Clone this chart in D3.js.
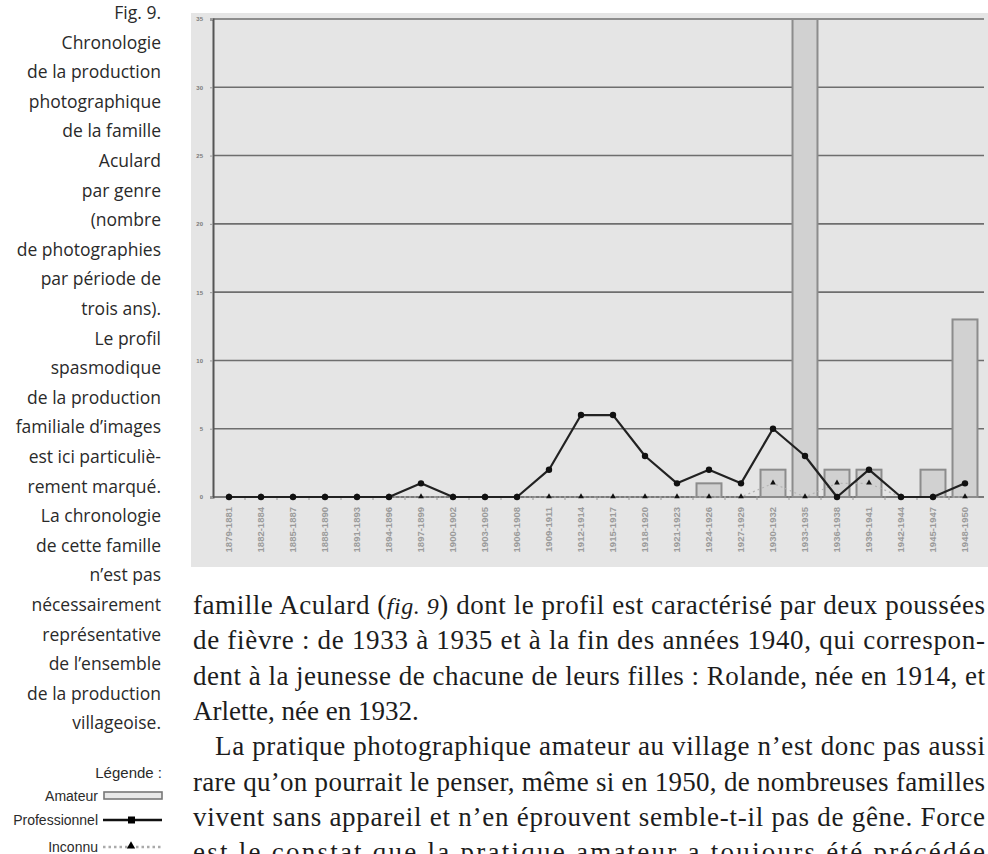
<!DOCTYPE html>
<html>
<head>
<meta charset="utf-8">
<script src="https://cdn.jsdelivr.net/npm/d3@7"></script>
<style>
  html, body { margin: 0; padding: 0; background: #fff; }
  svg { display: block; }
</style>
</head>
<body>
<script>
// périodes de trois ans
const periods = [
  '1879-1881', '1882-1884', '1885-1887', '1888-1890', '1891-1893', '1894-1896',
  '1897-1899', '1900-1902', '1903-1905', '1906-1908', '1909-1911', '1912-1914',
  '1915-1917', '1918-1920', '1921-1923', '1924-1926', '1927-1929', '1930-1932',
  '1933-1935', '1936-1938', '1939-1941', '1942-1944', '1945-1947', '1948-1950'
]
const amateur =       [0, 0, 0, 0, 0, 0, 0, 0, 0, 0, 0, 0, 0, 0, 0, 1, 0, 2, 35, 2, 2, 0, 2, 13]
const professionnel = [0, 0, 0, 0, 0, 0, 1, 0, 0, 0, 2, 6, 6, 3, 1, 2, 1, 5, 3, 0, 2, 0, 0, 1]
const inconnu =       [0, 0, 0, 0, 0, 0, 0, 0, 0, 0, 0, 0, 0, 0, 0, 0, 0, 1, 0, 1, 1, 0, 0, 0]
const yTicks = [0, 5, 10, 15, 20, 25, 30, 35]

const captionLines = [
  'Fig. 9.', 'Chronologie', 'de la production', 'photographique', 'de la famille',
  'Aculard', 'par genre', '(nombre', 'de photographies', 'par période de',
  'trois ans).', 'Le profil', 'spasmodique', 'de la production', 'familiale d’images',
  'est ici particuliè-', 'rement marqué.', 'La chronologie', 'de cette famille',
  'n’est pas', 'nécessairement', 'représentative', 'de l’ensemble',
  'de la production', 'villageoise.'
]
const legendLabels = ['Amateur', 'Professionnel', 'Inconnu']

// texte courant (justifié sauf fin de paragraphe)
const bodyLines = [
  { parts: [['famille Aculard ('], ['fig. 9', 'i'], [') dont le profil est caractérisé par deux poussées']], justify: true },
  { parts: [['de fièvre : de 1933 à 1935 et à la fin des années 1940, qui correspon-']], justify: true },
  { parts: [['dent à la jeunesse de chacune de leurs filles : Rolande, née en 1914, et']], justify: true },
  { parts: [['Arlette, née en 1932.']], justify: false },
  { parts: [['La pratique photographique amateur au village n’est donc pas aussi']], justify: true, indent: 22 },
  { parts: [['rare qu’on pourrait le penser, même si en 1950, de nombreuses familles']], justify: true },
  { parts: [['vivent sans appareil et n’en éprouvent semble-t-il pas de gêne. Force']], justify: true },
  { parts: [['est le constat que la pratique amateur a toujours été précédée']], justify: true }
]

const W = 988, H = 854
const svg = d3.select('body').append('svg')
  .attr('width', W)
  .attr('height', H)

svg.append('rect').attr('width', W).attr('height', H).attr('fill', '#fff')

// ---------- graphique ----------
const box = { x: 191, y: 13, w: W - 191, h: 554 }
const plot = { left: 213, right: 981, top: 19, bottom: 497 }

svg.append('rect')
  .attr('x', box.x).attr('y', box.y)
  .attr('width', box.w).attr('height', box.h)
  .attr('fill', '#e5e5e5')

const x = d3.scaleBand()
  .domain(periods)
  .range([plot.left, plot.right])
  .paddingInner(0.22)
  .paddingOuter(0.11)

const step = x.step()

const y = d3.scaleLinear()
  .domain([0, 35])
  .range([plot.bottom, plot.top])

const g = svg.append('g')

// lignes horizontales
g.append('g')
  .selectAll('line')
  .data(yTicks.filter(d => d > 0))
  .join('line')
  .attr('x1', plot.left)
  .attr('x2', plot.right + 3)
  .attr('y1', d => y(d))
  .attr('y2', d => y(d))
  .attr('stroke', '#6e6e6e')
  .attr('stroke-width', 1.6)

// axe vertical et étiquettes
const yAxis = g.append('g')
  .attr('transform', `translate(${plot.left},0)`)
  .call(d3.axisLeft(y).tickValues(yTicks).tickSize(3).tickPadding(7))
yAxis.select('.domain').attr('stroke', '#555').attr('stroke-width', 2)
yAxis.selectAll('.tick line').attr('stroke', '#999')
yAxis.selectAll('.tick text')
  .attr('font-family', 'Arial, Liberation Sans, sans-serif')
  .attr('font-size', 6)
  .attr('font-weight', 'bold')
  .attr('fill', '#7a7a7a')

// axe horizontal
const xAxis = g.append('g')
  .attr('transform', `translate(0,${plot.bottom})`)
  .call(d3.axisBottom(x).tickSize(0).tickPadding(0))
xAxis.select('.domain')
  .attr('d', `M${plot.left},0H${plot.right + 3}`)
  .attr('stroke', '#555')
  .attr('stroke-width', 1.5)
xAxis.selectAll('.tick text')
  .attr('transform', 'translate(0,10) rotate(-90)')
  .attr('text-anchor', 'end')
  .attr('dy', '0.35em')
  .attr('x', 0)
  .attr('y', 0)
  .attr('font-family', 'Arial, Liberation Sans, sans-serif')
  .attr('font-size', 9.5)
  .attr('font-weight', 'bold')
  .attr('fill', '#9a9a9a')

// petites graduations entre catégories
g.append('g')
  .selectAll('line')
  .data(periods.slice(1))
  .join('line')
  .attr('x1', d => x(d) - (step - x.bandwidth()) / 2)
  .attr('x2', d => x(d) - (step - x.bandwidth()) / 2)
  .attr('y1', plot.bottom - 1)
  .attr('y2', plot.bottom + 3)
  .attr('stroke', '#999')
  .attr('stroke-width', 1)

// barres : amateur
g.append('g')
  .selectAll('rect')
  .data(periods.map((p, i) => ({ p, v: amateur[i] })).filter(d => d.v > 0))
  .join('rect')
  .attr('x', d => x(d.p))
  .attr('y', d => y(d.v))
  .attr('width', x.bandwidth())
  .attr('height', d => y(0) - y(d.v))
  .attr('fill', '#d1d1d1')
  .attr('stroke', '#8c8c8c')
  .attr('stroke-width', 2)

const cx = p => x(p) + x.bandwidth() / 2

// ligne : inconnu
g.append('path')
  .datum(periods.map((p, i) => [cx(p), y(inconnu[i])]))
  .attr('d', d3.line())
  .attr('fill', 'none')
  .attr('stroke', '#b4b4b4')
  .attr('stroke-width', 1.2)
  .attr('stroke-dasharray', '2,3')

// ligne : professionnel
g.append('path')
  .datum(periods.map((p, i) => [cx(p), y(professionnel[i])]))
  .attr('d', d3.line())
  .attr('fill', 'none')
  .attr('stroke', '#222')
  .attr('stroke-width', 2.2)
  .attr('stroke-linejoin', 'round')

g.append('g')
  .selectAll('circle')
  .data(periods.map((p, i) => ({ p, v: professionnel[i] })))
  .join('circle')
  .attr('cx', d => cx(d.p))
  .attr('cy', d => y(d.v))
  .attr('r', 3.2)
  .attr('fill', '#111')

g.append('g')
  .selectAll('path')
  .data(periods.map((p, i) => ({ p, v: inconnu[i] })))
  .join('path')
  .attr('transform', d => `translate(${cx(d.p)},${y(d.v) - 0.5})`)
  .attr('d', d3.symbol(d3.symbolTriangle, 14))
  .attr('fill', '#111')

// ---------- légende de la figure ----------
const cap = svg.append('g')
  .attr('font-family', '"Open Sans", "Noto Sans", sans-serif')
  .attr('font-size', 17.5)
  .attr('fill', '#2a2a2a')
  .attr('text-anchor', 'end')

cap.selectAll('text')
  .data(captionLines)
  .join('text')
  .attr('x', 161)
  .attr('y', (d, i) => 19 + i * 29.6)
  .text(d => d)

const leg = svg.append('g')
  .attr('font-family', '"Liberation Sans Narrow", "Liberation Sans", sans-serif')
  .attr('font-stretch', 'condensed')
  .attr('fill', '#2a2a2a')

leg.append('text')
  .attr('x', 162)
  .attr('y', 778)
  .attr('text-anchor', 'end')
  .attr('font-size', 15)
  .text('Légende :')

const legY = [796, 820, 847]
leg.selectAll('text.lab')
  .data(legendLabels)
  .join('text')
  .attr('class', 'lab')
  .attr('x', 98)
  .attr('y', (d, i) => legY[i] + 5)
  .attr('text-anchor', 'end')
  .attr('font-size', 14)
  .text(d => d)

leg.append('rect')
  .attr('x', 104).attr('y', legY[0] - 4)
  .attr('width', 58).attr('height', 7)
  .attr('fill', '#e8e8e8')
  .attr('stroke', '#777')
  .attr('stroke-width', 1.6)

leg.append('line')
  .attr('x1', 103).attr('x2', 162)
  .attr('y1', legY[1]).attr('y2', legY[1])
  .attr('stroke', '#111').attr('stroke-width', 2.5)
leg.append('rect')
  .attr('x', 128).attr('y', legY[1] - 3.5)
  .attr('width', 7).attr('height', 7)
  .attr('fill', '#000')

leg.append('line')
  .attr('x1', 103).attr('x2', 162)
  .attr('y1', legY[2]).attr('y2', legY[2])
  .attr('stroke', '#aaa').attr('stroke-width', 2.5)
  .attr('stroke-dasharray', '2.5,3')
leg.append('path')
  .attr('transform', `translate(131,${legY[2] - 1})`)
  .attr('d', d3.symbol(d3.symbolTriangle, 30))
  .attr('fill', '#000')

// ---------- texte courant ----------
const bodySize = 27
const body = svg.append('g')
  .attr('font-family', '"Liberation Serif", "DejaVu Serif", serif')
  .attr('font-size', bodySize)
  .attr('fill', '#1c1c1c')

const bodyLeft = 193, bodyRight = 985
bodyLines.forEach((line, i) => {
  const xStart = bodyLeft + (line.indent || 0)
  const avail = bodyRight - xStart
  const t = body.append('text')
    .attr('x', xStart)
    .attr('y', 614 + i * 35.3)
  line.parts.forEach(([s, style]) => {
    t.append('tspan')
      .attr('font-style', style === 'i' ? 'italic' : null)
      .attr('font-size', style === 'i' ? bodySize - 3 : null)
      .text(s)
  })
  if (line.justify) {
    // ligne trop longue : on réduit un peu le corps, puis on justifie
    const natural = t.node().getComputedTextLength()
    if (natural > avail) t.attr('font-size', bodySize * avail / natural - 0.1)
    t.attr('textLength', avail).attr('lengthAdjust', 'spacing')
  }
})
</script>
</body>
</html>
